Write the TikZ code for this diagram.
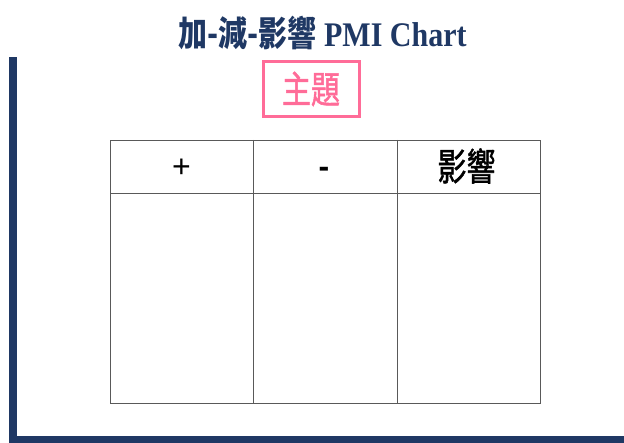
\documentclass[tikz,border=0pt]{standalone}
\usepackage{fontspec}
\setmainfont{Liberation Serif}
\setsansfont{Liberation Sans}
\newfontfamily\cjk{Noto Sans CJK TC}
\newfontfamily\cjkmid[FakeBold=1.5]{Noto Sans CJK TC}
\usepackage{tikz}
\definecolor{navyframe}{RGB}{31,56,100}
\definecolor{topicpink}{RGB}{255,108,152}
\tikzset{
  title node/.style={
    text=navyframe, inner sep=0pt, anchor=base,
    font=\bfseries\fontsize{30}{30}\selectfont
  },
  topic node/.style={
    draw=topicpink, line width=3pt, text=topicpink, inner sep=0pt,
    minimum width=96pt, minimum height=55pt,
    font=\fontsize{29}{29}\selectfont
  },
  head node/.style={
    inner sep=0pt, font=\sffamily\fontsize{32}{32}\selectfont
  },
  grid line/.style={draw=black!65, line width=0.8pt}
}
\newcommand{\tallcjk}[1]{\scalebox{1}[1.3]{\cjkmid #1}}

\begin{document}
\begin{tikzpicture}[x=1pt, y=-1pt]
    \useasboundingbox (0,0) rectangle (624,443);
    % frame
    \fill[navyframe] (9,57) rectangle (17,443);
    \fill[navyframe] (9,436) rectangle (624,443);
    % title and topic
    \draw (322.5,47) node[title node] (title) {\scalebox{1}[1.15]{{\cjk\fontsize{29}{29}\selectfont\scalebox{1}[1.05]{加-減-影響}} PMI Chart}};
    \draw (311,89) node[topic node] (topic) {\tallcjk{主題}};
    % table
    \draw[grid line] (110,140) rectangle (540,403);
    \draw[grid line] (110,193) -- (540,193);
    \foreach \x in {253,397}
        \draw[grid line] (\x,140) -- (\x,403);
    \draw (181.5,168) node[head node] (plus) {+};
    \draw (324,178) node[head node, anchor=base, font=\sffamily\bfseries\fontsize{32}{32}\selectfont] (minus) {-};
    \draw (466.5,166) node[head node, font=\fontsize{29}{29}\selectfont] (impact) {\tallcjk{影響}};
\end{tikzpicture}
\end{document}
